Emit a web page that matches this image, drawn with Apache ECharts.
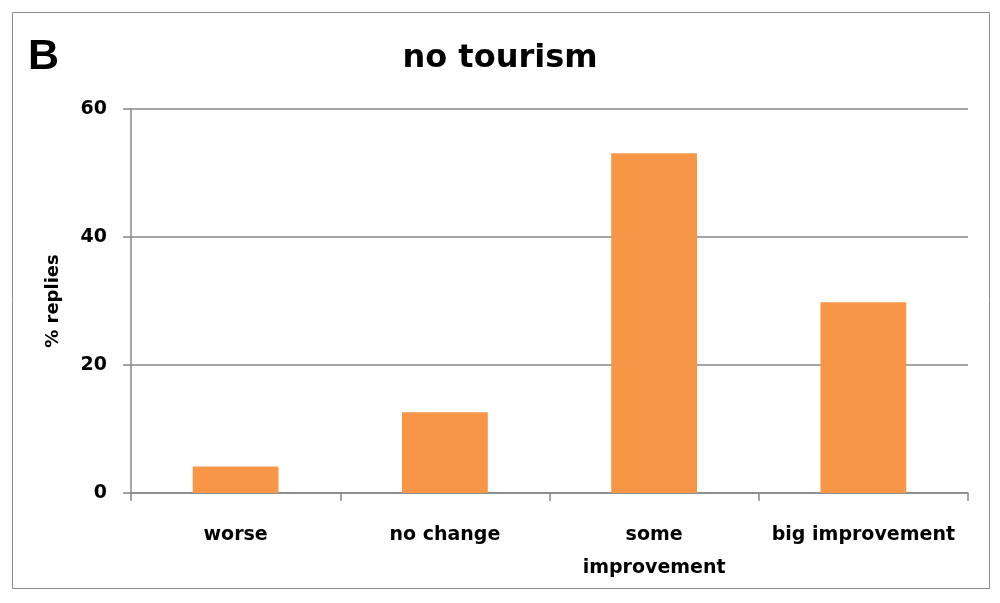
<!DOCTYPE html>
<html>
<head>
<meta charset="utf-8">
<script src="https://cdn.jsdelivr.net/npm/echarts@6/dist/echarts.min.js"></script>
<style>html,body{margin:0;padding:0;background:#fff}#c{width:1000px;height:603px}</style>
</head>
<body>
<div id="c"></div>
<script>
const categories = ['worse', 'no change', 'some\nimprovement', 'big improvement'];
const values = [4.15, 12.6, 53.1, 29.8];
const yTicks = [0, 20, 40, 60];
const titleText = 'no tourism';
const panelLetter = 'B';
const yName = '% replies';

const chart = echarts.init(document.getElementById('c'), null, {renderer: 'canvas'});
const F = 'DejaVu Sans';
chart.setOption({
  animation: false,
  backgroundColor: '#fff',
  title: {
    text: titleText, left: 'center', top: 38,
    textStyle: {fontFamily: F, fontWeight: 'bold', fontSize: 32, color: '#000'}
  },
  graphic: [
    {type: 'rect', shape: {x: 12.5, y: 12.5, width: 977, height: 576}, style: {fill: 'none', stroke: '#8c8c8c', lineWidth: 1}, silent: true},
    {type: 'text', left: 28, top: 36, style: {text: panelLetter, font: 'bold 43px "Liberation Sans"', fill: '#000'}}
  ],
  grid: {left: 131, right: 32, top: 109, bottom: 110},
  xAxis: {
    type: 'category', data: categories,
    axisLine: {lineStyle: {color: '#888', width: 1.5}},
    axisTick: {show: true, length: 8, lineStyle: {color: '#888', width: 1.5}},
    axisLabel: {
      interval: 0, margin: 26, verticalAlign: 'top',
      fontFamily: F, fontWeight: 'bold', fontSize: 19, color: '#000', lineHeight: 33
    }
  },
  yAxis: {
    type: 'value', min: 0, max: 60, interval: 20,
    name: yName, nameLocation: 'middle', nameRotate: 90, nameGap: 69,
    nameTextStyle: {fontFamily: F, fontWeight: 'bold', fontSize: 18, color: '#000'},
    axisLine: {show: true, lineStyle: {color: '#888', width: 1.5}},
    axisTick: {show: true, length: 8, lineStyle: {color: '#888', width: 1.5}},
    axisLabel: {
      margin: 24, fontFamily: F, fontWeight: 'bold', fontSize: 19, color: '#000',
      formatter: v => yTicks.includes(v) ? String(v) : ''
    },
    splitLine: {show: true, lineStyle: {color: '#888', width: 1.5}}
  },
  series: [{
    type: 'bar', data: values, barWidth: '41%',
    itemStyle: {color: '#F79646'}
  }]
});
</script>
</body>
</html>
